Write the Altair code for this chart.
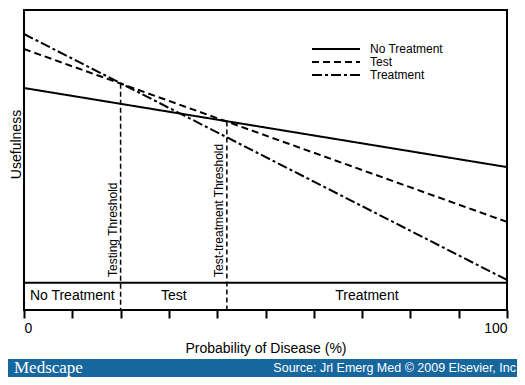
import altair as alt
import pandas as pd

# Data
prob_ends = [0, 100]
series_names = ["No Treatment", "Test", "Treatment"]
series_start = [71.4, 85.7, 91.2]
series_end = [42.4, 22.3, 1.0]
thresholds = [20, 42]
threshold_labels = ["Testing Threshold", "Test-treatment Threshold"]
threshold_tops = [73.0, 59.1]
zone_names = ["No Treatment", "Test", "Treatment"]
zone_mid = [10, 31, 71]
tick_values = [0, 10, 20, 30, 40, 50, 60, 70, 80, 90, 100]
footer_left = "Medscape"
footer_right = "Source: Jrl Emerg Med \u00a9 2009 Elsevier, Inc"

rows = []
for n, s, e in zip(series_names, series_start, series_end):
    rows.append({"p": prob_ends[0], "u": s, "series": n})
    rows.append({"p": prob_ends[1], "u": e, "series": n})
lines_df = pd.DataFrame(rows)
thr_df = pd.DataFrame({"p": thresholds, "top": threshold_tops, "label": threshold_labels, "bottom": [-10, -10]})
zone_df = pd.DataFrame({"p": zone_mid, "label": zone_names, "y": [-5, -5, -5]})
legend_df = pd.DataFrame({"series": series_names})

FONT = "Liberation Sans"
W, H = 483, 300
xs = alt.Scale(domain=[0, 100], nice=False, zero=False)
ys = alt.Scale(domain=[-10, 100], nice=False, zero=False)
dash_scale = alt.Scale(domain=series_names, range=[[1, 0], [7, 4], [10, 3, 3, 3]])

lines = alt.Chart(lines_df).mark_line(color="black", strokeWidth=2).encode(
    x=alt.X("p:Q", scale=xs, axis=alt.Axis(
        values=tick_values, title="Probability of Disease (%)",
        labelExpr="datum.value == 0 || datum.value == 100 ? datum.label : ''",
        tickSize=8, tickWidth=2, tickColor="black", domain=False, grid=False,
        labelFont=FONT, labelFontSize=14, labelColor="black", labelPadding=3,
        titleFont=FONT, titleFontSize=14, titleFontWeight="normal", titleColor="black",
        titlePadding=6)),
    y=alt.Y("u:Q", scale=ys, axis=alt.Axis(
        title="Usefulness", ticks=False, labels=False, domain=False, grid=False,
        titleFont=FONT, titleFontSize=14, titleFontWeight="normal", titleColor="black",
        titleY=134, titleX=-1, titleBaseline="bottom", titleAngle=270)),
    strokeDash=alt.StrokeDash("series:N", scale=dash_scale, legend=None),
)

band_line = alt.Chart(pd.DataFrame({"u": [0]})).mark_rule(color="black", strokeWidth=2).encode(
    y=alt.Y("u:Q", scale=ys))

thr_rules = alt.Chart(thr_df).mark_rule(color="black", strokeWidth=1.5, strokeDash=[5, 3]).encode(
    x=alt.X("p:Q", scale=xs), y=alt.Y("top:Q", scale=ys), y2="bottom:Q")

thr_text = alt.Chart(thr_df).mark_text(angle=270, align="left", baseline="bottom",
                                       font=FONT, fontSize=12, dx=6, dy=-1, color="black").encode(
    x=alt.X("p:Q", scale=xs), y=alt.value(H - 27), text="label:N")

zone_text = alt.Chart(zone_df).mark_text(font=FONT, fontSize=14, color="black").encode(
    x=alt.X("p:Q", scale=xs), y=alt.Y("y:Q", scale=ys), text="label:N")

# manual legend
leg_y = alt.Y("series:N", scale=alt.Scale(type="point", domain=series_names, range=[39, 65], padding=0), axis=None)
legend_lines = alt.Chart(legend_df).mark_rule(color="black", strokeWidth=2).encode(
    x=alt.value(288), x2=alt.value(336), y=leg_y,
    strokeDash=alt.StrokeDash("series:N", scale=dash_scale, legend=None))
legend_text = alt.Chart(legend_df).mark_text(font=FONT, fontSize=12, color="black",
                                             align="left", baseline="middle").encode(
    x=alt.value(346), y=leg_y, text="series:N")

footer = alt.Chart(pd.DataFrame({"t": [footer_left]})).mark_rect(color="#17679f", clip=False).encode(
    x=alt.value(-16), x2=alt.value(W + 10), y=alt.value(H + 49), y2=alt.value(H + 59 + 10))

footer_l = alt.Chart(pd.DataFrame({"t": [footer_left]})).mark_text(
    font="Liberation Serif", fontSize=17, color="white", align="left", baseline="middle").encode(
    x=alt.value(-10), y=alt.value(H + 58), text="t:N")

footer_r = alt.Chart(pd.DataFrame({"t": [footer_right]})).mark_text(
    font=FONT, fontSize=12.5, color="white", align="right", baseline="middle").encode(
    x=alt.value(W + 9), y=alt.value(H + 58), text="t:N")

main = alt.layer(footer, band_line, thr_rules, lines, thr_text, zone_text, footer_l, footer_r)
legend = alt.layer(legend_lines, legend_text)

chart = alt.layer(main, legend).resolve_scale(y="independent").properties(
    width=W, height=H,
    autosize=alt.AutoSizeParams(type="none"),
    padding={"left": 16, "top": 2, "right": 10, "bottom": 67},
    background="white",
).configure_view(stroke="black", strokeWidth=2)

chart.save("out.html", embed_options={"renderer": "svg", "actions": False})
